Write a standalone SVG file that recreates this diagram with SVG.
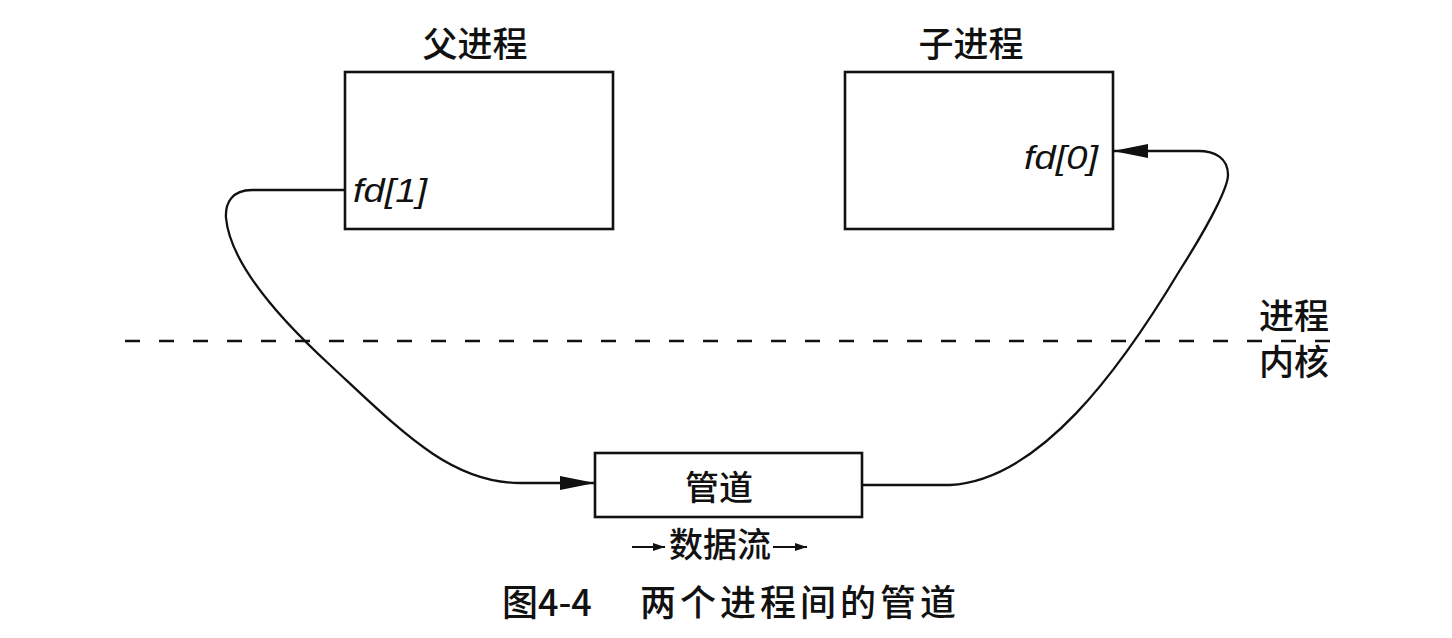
<svg xmlns="http://www.w3.org/2000/svg" width="1452" height="638" viewBox="0 0 1452 638">
<style>
.box{fill:#fff;stroke:#111;stroke-width:2.6}
.cn{font-family:"Noto Sans CJK SC","Noto Sans CJK JP",sans-serif;fill:#111;font-weight:500}
.it{font-family:"Liberation Sans",sans-serif;font-style:italic;fill:#111}
.conn{fill:none;stroke:#111;stroke-width:2.3}
</style>
<defs>
<marker id="ah" viewBox="0 0 12 8" refX="12" refY="4" markerWidth="12" markerHeight="8" markerUnits="userSpaceOnUse" orient="auto">
<path d="M0,0 L12,4 L0,8 Z" fill="#111"/>
</marker>
<marker id="ahb" viewBox="0 0 35 16" refX="35" refY="8" markerWidth="35" markerHeight="16" markerUnits="userSpaceOnUse" orient="auto">
<path d="M0,1 L35,8 L0,15 Z" fill="#111"/>
</marker>
</defs>
<rect width="1452" height="638" fill="#fff"/>
<g id="parent">
<rect class="box" x="345" y="72" width="268" height="157"/>
<text class="cn" x="475" y="57" font-size="35" text-anchor="middle">父进程</text>
<text class="it" x="353" y="202" font-size="34" textLength="74" lengthAdjust="spacingAndGlyphs">fd[1]</text>
</g>
<g id="child">
<rect class="box" x="845" y="72" width="268" height="157"/>
<text class="cn" x="971" y="57" font-size="35" text-anchor="middle">子进程</text>
<text class="it" x="1024" y="169" font-size="34" textLength="74" lengthAdjust="spacingAndGlyphs">fd[0]</text>
</g>
<g id="pipe">
<rect class="box" x="595" y="453" width="267" height="64"/>
<text class="cn" x="719" y="500" font-size="34" text-anchor="middle">管道</text>
</g>
<g id="boundary">
<line x1="125" y1="341" x2="1330" y2="341" stroke="#111" stroke-width="2.6" stroke-dasharray="15,19"/>
<text class="cn" x="1294" y="329" font-size="35" text-anchor="middle">进程</text>
<text class="cn" x="1294" y="375" font-size="35" text-anchor="middle">内核</text>
</g>
<g id="connectors">
<path class="conn" marker-end="url(#ahb)" d="M345,190 L252,190 C232,190 225,203 226,218 C230,260 270,310 330,365 C400,430 450,483 520,483 L595,483"/>
<path class="conn" marker-end="url(#ahb)" d="M862,485 L950,485 C1040,480 1120,370 1180,270 C1215,215 1228,185 1228,175 C1228,158 1215,151 1198,151 L1113,151"/>
</g>
<g id="legend">
<line x1="632" y1="547" x2="665" y2="547" stroke="#111" stroke-width="2.2" marker-end="url(#ah)"/>
<text class="cn" x="720" y="557" font-size="34" text-anchor="middle">数据流</text>
<line x1="773" y1="547" x2="807" y2="547" stroke="#111" stroke-width="2.2" marker-end="url(#ah)"/>
</g>
<g id="caption">
<text class="cn" x="502" y="616" font-size="36">图4-4</text>
<text class="cn" x="640" y="616" font-size="36" letter-spacing="4">两个进程间的管道</text>
</g>
</svg>
